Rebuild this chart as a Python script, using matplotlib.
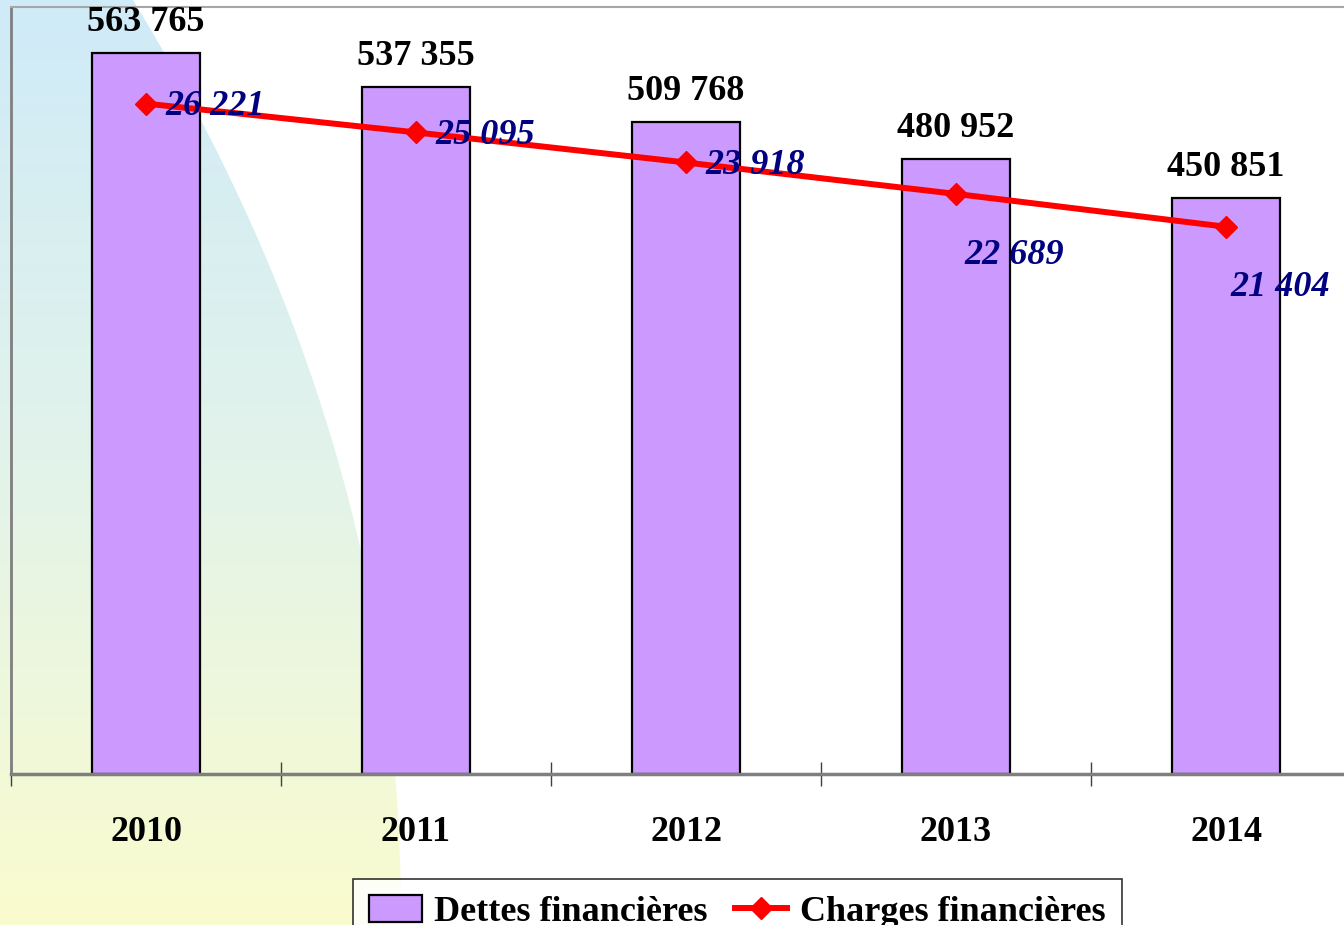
import numpy as np
import matplotlib
matplotlib.use("Agg")
import matplotlib.pyplot as plt
from matplotlib.path import Path
from matplotlib.patches import PathPatch
from matplotlib.lines import Line2D
from matplotlib.patches import Rectangle

# ---- data ----
years = ["2010", "2011", "2012", "2013", "2014"]
dettes = [563765, 537355, 509768, 480952, 450851]
charges = [26221, 25095, 23918, 22689, 21404]

def fmt(v):
    return f"{v:,}".replace(",", " ")

W, H = 1344, 925
fig = plt.figure(figsize=(W / 100, H / 100), dpi=100)
fig.patch.set_facecolor("white")

# ---- background gradient swoosh ----
bg = fig.add_axes([0, 0, 1, 1], zorder=-5)
bg.set_xlim(0, W)
bg.set_ylim(H, 0)
bg.axis("off")
top = np.array([207, 235, 248]) / 255
mid = np.array([226, 243, 234]) / 255
bot = np.array([250, 252, 206]) / 255
t = np.linspace(0, 1, 256)[:, None]
grad = np.where(t < 0.5, top + (mid - top) * (t / 0.5), mid + (bot - mid) * ((t - 0.5) / 0.5))
grad = np.repeat(grad[:, None, :], 2, axis=1).reshape(256, 2, 3)
im = bg.imshow(grad, extent=[0, 460, H, 0], aspect="auto", interpolation="bilinear")
ys = np.linspace(0, H, 80)
u = ys / H
xs = 133 + 268 * (1 - (1 - u) ** 2.1)
verts = [(0, 0)] + list(zip(xs, ys)) + [(0, H), (0, 0)]
codes = [Path.MOVETO] + [Path.LINETO] * (len(verts) - 2) + [Path.CLOSEPOLY]
clip = PathPatch(Path(verts, codes), transform=bg.transData, facecolor="none", edgecolor="none")
bg.add_patch(clip)
im.set_clip_path(clip)

# ---- main axes ----
left = 11 / W
bottom = 1 - 774 / H
height = (774 - 7) / H
width = 1350 / W
ax = fig.add_axes([left, bottom, width, height])
ax.set_facecolor("none")
x = np.arange(len(years))
bars = ax.bar(x, dettes, width=0.4, color="#CC99FF", edgecolor="black", linewidth=1.6, zorder=2)
ax.set_xlim(-0.5, len(years) - 0.5)
ax.set_ylim(0, 600000)
ax.set_yticks([])
ax.set_xticks(x)
ax.set_xticklabels(years, fontfamily="Liberation Serif", fontweight="bold", fontsize=26)
ax.tick_params(axis="x", which="major", length=0, pad=30)
ax.set_xticks(np.arange(-0.5, len(years), 1), minor=True)
ax.tick_params(axis="x", which="minor", direction="inout", length=17, width=1, color="#404040")
ax.spines["left"].set_color("#7f7f7f")
ax.spines["left"].set_linewidth(2)
ax.spines["bottom"].set_color("#7f7f7f")
ax.spines["bottom"].set_linewidth(2.5)
ax.spines["top"].set_color("#a6a6a6")
ax.spines["top"].set_linewidth(1.5)
ax.spines["right"].set_visible(False)

for xi, v in zip(x, dettes):
    ax.annotate(fmt(v), (xi, v), xytext=(0, 10), textcoords="offset points",
                ha="center", va="bottom", fontfamily="Liberation Serif",
                fontweight="bold", fontsize=26, color="black")

ax2 = ax.twinx()
ax2.set_ylim(0, 30000)
ax2.set_yticks([])
for s in ax2.spines.values():
    s.set_visible(False)
ax2.plot(x, charges, color="#FF0000", linewidth=4.3, marker="D", markersize=11.5,
         markerfacecolor="#FF0000", markeredgecolor="#FF0000", zorder=3)
offsets = [(14, -2), (14, -2), (14, -2), (6, -44), (3, -44)]
for xi, v, (dx, dy) in zip(x, charges, offsets):
    ax2.annotate(fmt(v), (xi, v), xytext=(dx, dy), textcoords="offset points",
                 ha="left", va="center", fontfamily="Liberation Serif",
                 fontweight="bold", fontstyle="italic", fontsize=26, color="#000080")

# ---- legend ----
handles = [
    Rectangle((0, 0), 1, 1, facecolor="#CC99FF", edgecolor="black", linewidth=1.6),
    Line2D([], [], color="#FF0000", linewidth=4.3, marker="D", markersize=11.5),
]
leg = fig.legend(handles, ["Dettes financières", "Charges financières"],
                 loc="upper left", bbox_to_anchor=(353 / W, 1 - 879 / H),
                 ncol=2, frameon=True, fancybox=False, edgecolor="black",
                 prop={"family": "Liberation Serif", "weight": "bold", "size": 26},
                 handlelength=1.45, handleheight=0.75, handletextpad=0.35,
                 columnspacing=0.75, borderpad=0.45, borderaxespad=0)
leg.get_frame().set_linewidth(1.2)

fig.savefig("out.png", dpi=100, facecolor="white")
